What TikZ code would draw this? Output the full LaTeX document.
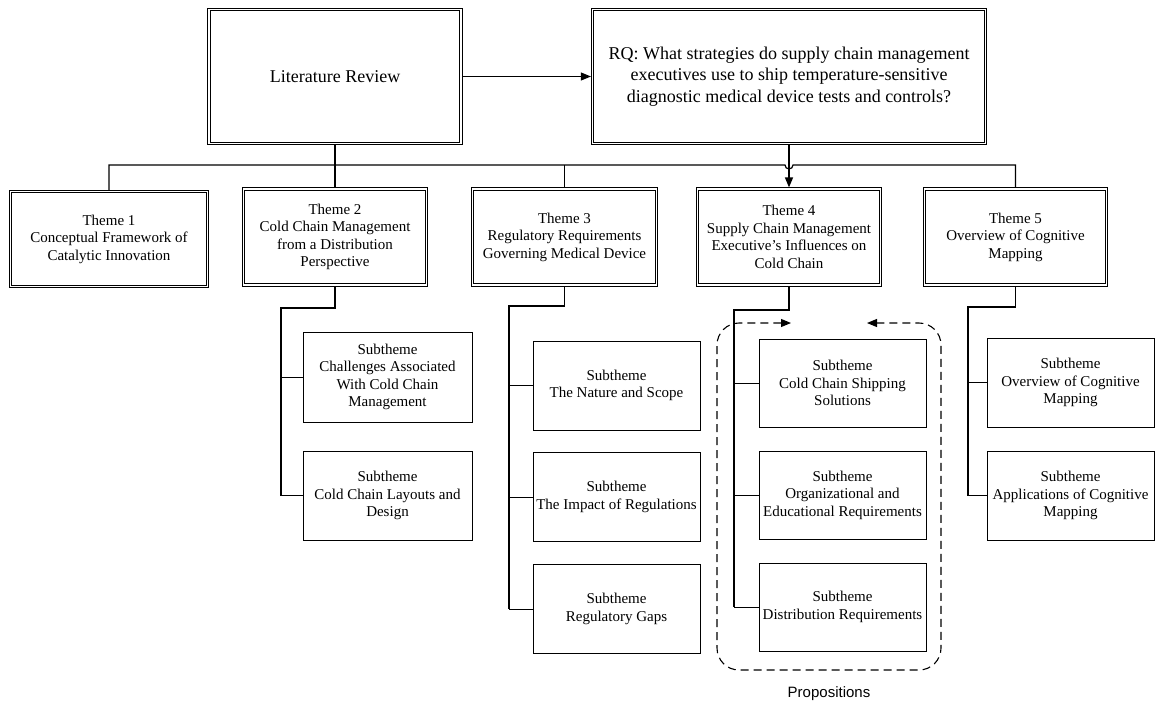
\documentclass[tikz,border=0pt]{standalone}
\usepackage{fontspec}
\setmainfont{Liberation Serif}
\newfontfamily\labelsans{Liberation Sans}
\usetikzlibrary{arrows.meta,calc}

\tikzset{
  topbox/.style={draw, double, double distance=1.3pt, line width=0.9pt, outer sep=1.6pt,
    align=center, font=\fontsize{18}{21.5}\selectfont, inner sep=0pt},
  themebox/.style={draw, double, double distance=1.3pt, line width=0.9pt, outer sep=1.6pt,
    align=center, font=\fontsize{15}{17.5}\selectfont, inner sep=0pt,
    minimum height=96pt},
  subbox/.style={draw, line width=0.9pt, align=center, font=\fontsize{15}{17.5}\selectfont,
    inner sep=0pt, minimum width=167pt, minimum height=89pt},
  trunk/.style={line width=1.4pt},
  stub/.style={line width=1pt},
  tip/.style={-{Triangle[length=10pt,width=8pt]}},
  propframe/.style={line width=1.1pt, dash pattern=on 8pt off 5pt, rounded corners=22pt,
    {Triangle[length=10pt,width=8pt]}-{Triangle[length=10pt,width=8pt]}}
}

\begin{document}
\begin{tikzpicture}[x=1pt,y=-1pt]
\useasboundingbox (0,0) rectangle (1157,707);

% top row
\node[topbox, minimum width=252pt, minimum height=134pt] (LR) at (335,76.5) {Literature Review};
\node[topbox, minimum width=393pt, minimum height=134pt] (RQ) at (789,76.5)
  {RQ: What strategies do supply chain management\\executives use to ship temperature-sensitive\\diagnostic medical device tests and controls?};

% themes
\node[themebox, minimum width=197pt, minimum height=95pt] (T1) at (109,239) {Theme 1\\Conceptual Framework of\\Catalytic Innovation};
\node[themebox, minimum width=183pt] (T2) at (335,237) {Theme 2\\Cold Chain Management\\from a Distribution\\Perspective};
\node[themebox, minimum width=184pt] (T3) at (564.5,237) {Theme 3\\Regulatory Requirements\\Governing Medical Device};
\node[themebox, minimum width=183pt] (T4) at (789,237) {Theme 4\\Supply Chain Management\\Executive’s Influences on\\Cold Chain};
\node[themebox, minimum width=182pt] (T5) at (1015.5,237) {Theme 5\\Overview of Cognitive\\Mapping};

% subthemes
\node[subbox, minimum width=169pt, minimum height=90pt] (S2a) at (387.5,377) {Subtheme\\Challenges Associated\\With Cold Chain\\Management};
\node[subbox, minimum width=169pt] (S2b) at (387.5,495.5) {Subtheme\\Cold Chain Layouts and\\Design};

\node[subbox] (S3a) at (616.5,385.5) {Subtheme\\The Nature and Scope};
\node[subbox] (S3b) at (616.5,497) {Subtheme\\The Impact of Regulations};
\node[subbox] (S3c) at (616.5,609) {Subtheme\\Regulatory Gaps};

\node[subbox, minimum height=88pt] (S4a) at (842.5,383) {Subtheme\\Cold Chain Shipping\\Solutions};
\node[subbox, minimum height=88pt] (S4b) at (842.5,495) {Subtheme\\Organizational and\\Educational Requirements};
\node[subbox, minimum height=88pt] (S4c) at (842.5,607) {Subtheme\\Distribution Requirements};

\node[subbox] (S5a) at (1070.5,382.5) {Subtheme\\Overview of Cognitive\\Mapping};
\node[subbox] (S5b) at (1070.5,495.5) {Subtheme\\Applications of Cognitive\\Mapping};

% top connectors
\draw[stub, tip] (LR.east) -- (RQ.west);
\coordinate (busy) at (0,165);
\draw[trunk] (LR.south) -- (T2.north);
\draw[line width=1.2pt] (T1.north) -- (T1.north |- busy)
  -- ($(T4.north |- busy)+(-4,0)$) arc[start angle=180,end angle=0,radius=4]
  -- (T5.north |- busy) -- (T5.north);
\draw[line width=1.2pt] (T3.north) -- (T3.north |- busy);
\draw[trunk, tip] (RQ.south) -- (T4.north);

% theme 2 branch
\coordinate (k2) at (281,308);
\draw[trunk] (T2.south) |- (k2) -- (k2 |- S2b.west);
\draw[stub] (k2 |- S2a.west) -- (S2a.west);
\draw[stub] (k2 |- S2b.west) -- (S2b.west);

% theme 3 branch
\coordinate (k3) at (509,306);
\draw[trunk] (T3.south) |- (k3) -- (k3 |- S3c.west);
\draw[stub] (k3 |- S3a.west) -- (S3a.west);
\draw[stub] (k3 |- S3b.west) -- (S3b.west);
\draw[stub] (k3 |- S3c.west) -- (S3c.west);

% theme 4 branch
\coordinate (k4) at (734,310);
\draw[trunk] (T4.south) |- (k4) -- (k4 |- S4c.west);
\draw[stub] (k4 |- S4a.west) -- (S4a.west);
\draw[stub] (k4 |- S4b.west) -- (S4b.west);
\draw[stub] (k4 |- S4c.west) -- (S4c.west);

% theme 5 branch
\coordinate (k5) at (968,307);
\draw[trunk] (T5.south) |- (k5) -- (k5 |- S5b.west);
\draw[stub] (k5 |- S5a.west) -- (S5a.west);
\draw[stub] (k5 |- S5b.west) -- (S5b.west);

% propositions frame
\coordinate (pl) at (791,323);
\coordinate (pr) at (867,323);
\draw[propframe] (pl) -- (717,323) -- (717,670) -- (941,670) -- (941,323) -- (pr);
\node[font=\labelsans\fontsize{15}{17}\selectfont] (prop) at (829,694) {Propositions};
\end{tikzpicture}
\end{document}
